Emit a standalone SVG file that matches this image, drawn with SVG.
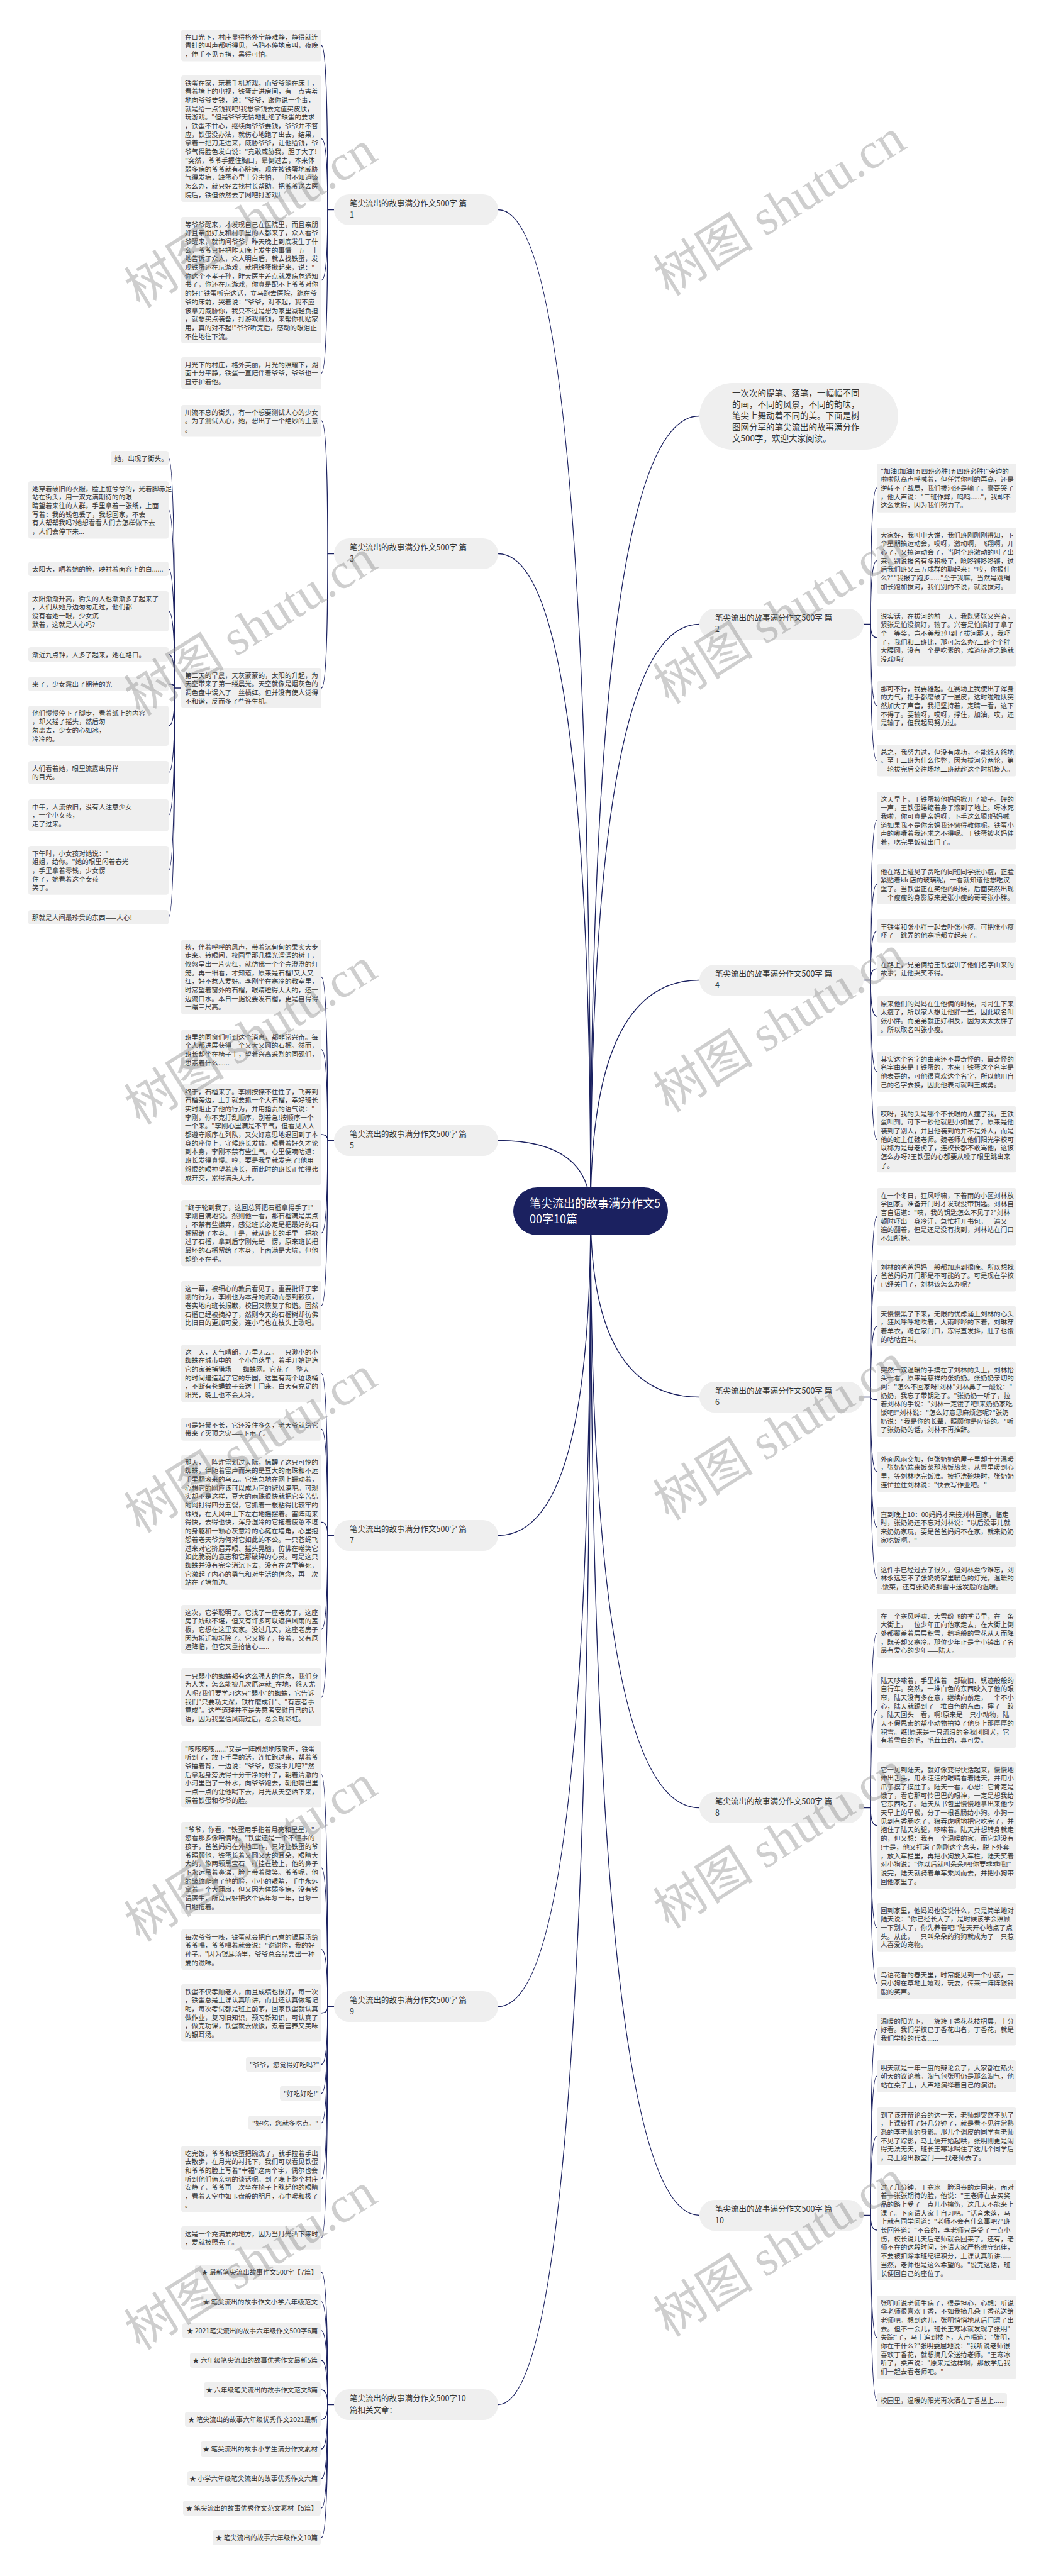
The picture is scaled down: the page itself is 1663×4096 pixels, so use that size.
<svg xmlns="http://www.w3.org/2000/svg" width="1663" height="4096" viewBox="0 0 1663 4096">
<style>
.bx{fill:#efefef}
.nd{fill:#efefef}
.tx{font-family:"Noto Sans CJK SC","Noto Sans",sans-serif;font-size:10.6px;fill:#333}
.nt{font-family:"Noto Sans CJK SC","Noto Sans",sans-serif;font-size:12.5px;fill:#333}
.it{font-family:"Noto Sans CJK SC","Noto Sans",sans-serif;font-size:10.6px;fill:#333;text-anchor:end}
.ln{fill:none;stroke:#1b2160;stroke-width:1.4}
.wm{font-family:"Liberation Serif","Noto Sans CJK SC",serif;font-size:80px;fill:#7f7f7f;fill-opacity:0.38;text-anchor:middle}
</style>
<rect width="1663" height="4096" fill="#ffffff"/>
<g id="connectors">
<path class="ln" d="M939 1926 Q939 661.5 1112 661.5"/>
<path class="ln" d="M939 1926 Q939 992.5 1112 992.5"/>
<path class="ln" d="M939 1926 Q939 1558.5 1112 1558.5"/>
<path class="ln" d="M939 1926 Q939 2221.5 1112 2221.5"/>
<path class="ln" d="M939 1926 Q939 2874.5 1112 2874.5"/>
<path class="ln" d="M939 1926 Q939 3522.5 1112 3522.5"/>
<path class="ln" d="M939 1926 Q939 333.5 792 333.5"/>
<path class="ln" d="M939 1926 Q939 880.5 792 880.5"/>
<path class="ln" d="M939 1926 Q939 1813.5 792 1813.5"/>
<path class="ln" d="M939 1926 Q939 2441.5 792 2441.5"/>
<path class="ln" d="M939 1926 Q939 3190.5 792 3190.5"/>
<path class="ln" d="M939 1926 Q939 3823.5 792 3823.5"/>
<path class="ln" d="M531 333.5 L521 333.5 Q521 72.2 511 72.2"/>
<path class="ln" d="M521 333.5 Q521 220.6 511 220.6"/>
<path class="ln" d="M521 333.5 Q521 445.6 511 445.6"/>
<path class="ln" d="M521 333.5 Q521 593.2 511 593.2"/>
<path class="ln" d="M531 880.5 L521 880.5 Q521 669.2 511 669.2"/>
<path class="ln" d="M521 880.5 Q521 1094 511 1094"/>
<path class="ln" d="M288 1094 L278 1094 Q278 728.5 268 728.5"/>
<path class="ln" d="M278 1094 Q278 810.8 268 810.8"/>
<path class="ln" d="M278 1094 Q278 904.5 268 904.5"/>
<path class="ln" d="M278 1094 Q278 972 268 972"/>
<path class="ln" d="M278 1094 Q278 1040.5 268 1040.5"/>
<path class="ln" d="M278 1094 Q278 1087.5 268 1087.5"/>
<path class="ln" d="M278 1094 Q278 1154 268 1154"/>
<path class="ln" d="M278 1094 Q278 1228.4 268 1228.4"/>
<path class="ln" d="M278 1094 Q278 1296.2 268 1296.2"/>
<path class="ln" d="M278 1094 Q278 1383.9 268 1383.9"/>
<path class="ln" d="M278 1094 Q278 1458.5 268 1458.5"/>
<path class="ln" d="M531 1813.5 L521 1813.5 Q521 1553.5 511 1553.5"/>
<path class="ln" d="M521 1813.5 Q521 1669 511 1669"/>
<path class="ln" d="M521 1813.5 Q521 1804 511 1804"/>
<path class="ln" d="M521 1813.5 Q521 1960.6 511 1960.6"/>
<path class="ln" d="M521 1813.5 Q521 2075.9 511 2075.9"/>
<path class="ln" d="M531 2441.5 L521 2441.5 Q521 2183.8 511 2183.8"/>
<path class="ln" d="M521 2441.5 Q521 2272.4 511 2272.4"/>
<path class="ln" d="M521 2441.5 Q521 2420.4 511 2420.4"/>
<path class="ln" d="M521 2441.5 Q521 2590.9 511 2590.9"/>
<path class="ln" d="M521 2441.5 Q521 2698.8 511 2698.8"/>
<path class="ln" d="M531 3190.5 L521 3190.5 Q521 2821.6 511 2821.6"/>
<path class="ln" d="M521 3190.5 Q521 2970.2 511 2970.2"/>
<path class="ln" d="M521 3190.5 Q521 3100 511 3100"/>
<path class="ln" d="M521 3190.5 Q521 3200.8 511 3200.8"/>
<path class="ln" d="M521 3190.5 Q521 3282.5 511 3282.5"/>
<path class="ln" d="M521 3190.5 Q521 3328.5 511 3328.5"/>
<path class="ln" d="M521 3190.5 Q521 3375.5 511 3375.5"/>
<path class="ln" d="M521 3190.5 Q521 3464.6 511 3464.6"/>
<path class="ln" d="M521 3190.5 Q521 3558.4 511 3558.4"/>
<path class="ln" d="M531 3823.5 L521 3823.5 Q521 3613 511 3613"/>
<path class="ln" d="M521 3823.5 Q521 3660 511 3660"/>
<path class="ln" d="M521 3823.5 Q521 3706 511 3706"/>
<path class="ln" d="M521 3823.5 Q521 3753 511 3753"/>
<path class="ln" d="M521 3823.5 Q521 3800 511 3800"/>
<path class="ln" d="M521 3823.5 Q521 3847 511 3847"/>
<path class="ln" d="M521 3823.5 Q521 3894 511 3894"/>
<path class="ln" d="M521 3823.5 Q521 3941 511 3941"/>
<path class="ln" d="M521 3823.5 Q521 3988 511 3988"/>
<path class="ln" d="M521 3823.5 Q521 4035 511 4035"/>
<path class="ln" d="M1373 992.5 L1384 992.5 Q1384 775.9 1394 775.9"/>
<path class="ln" d="M1384 992.5 Q1384 891.6 1394 891.6"/>
<path class="ln" d="M1384 992.5 Q1384 1013.8 1394 1013.8"/>
<path class="ln" d="M1384 992.5 Q1384 1121.9 1394 1121.9"/>
<path class="ln" d="M1384 992.5 Q1384 1209.2 1394 1209.2"/>
<path class="ln" d="M1373 1558.5 L1384 1558.5 Q1384 1304.8 1394 1304.8"/>
<path class="ln" d="M1384 1558.5 Q1384 1406 1394 1406"/>
<path class="ln" d="M1384 1558.5 Q1384 1480.4 1394 1480.4"/>
<path class="ln" d="M1384 1558.5 Q1384 1540.4 1394 1540.4"/>
<path class="ln" d="M1384 1558.5 Q1384 1616 1394 1616"/>
<path class="ln" d="M1384 1558.5 Q1384 1704 1394 1704"/>
<path class="ln" d="M1384 1558.5 Q1384 1811.6 1394 1811.6"/>
<path class="ln" d="M1373 2221.5 L1384 2221.5 Q1384 1934.8 1394 1934.8"/>
<path class="ln" d="M1384 2221.5 Q1384 2028.2 1394 2028.2"/>
<path class="ln" d="M1384 2221.5 Q1384 2109 1394 2109"/>
<path class="ln" d="M1384 2221.5 Q1384 2225.5 1394 2225.5"/>
<path class="ln" d="M1384 2221.5 Q1384 2340 1394 2340"/>
<path class="ln" d="M1384 2221.5 Q1384 2428 1394 2428"/>
<path class="ln" d="M1384 2221.5 Q1384 2509.2 1394 2509.2"/>
<path class="ln" d="M1373 2874.5 L1384 2874.5 Q1384 2596.9 1394 2596.9"/>
<path class="ln" d="M1384 2874.5 Q1384 2719.5 1394 2719.5"/>
<path class="ln" d="M1384 2874.5 Q1384 2902.6 1394 2902.6"/>
<path class="ln" d="M1384 2874.5 Q1384 3064.9 1394 3064.9"/>
<path class="ln" d="M1384 2874.5 Q1384 3153.2 1394 3153.2"/>
<path class="ln" d="M1373 3522.5 L1384 3522.5 Q1384 3227.2 1394 3227.2"/>
<path class="ln" d="M1384 3522.5 Q1384 3301.2 1394 3301.2"/>
<path class="ln" d="M1384 3522.5 Q1384 3396.8 1394 3396.8"/>
<path class="ln" d="M1384 3522.5 Q1384 3546 1394 3546"/>
<path class="ln" d="M1384 3522.5 Q1384 3716.6 1394 3716.6"/>
<path class="ln" d="M1384 3522.5 Q1384 3816.5 1394 3816.5"/>
</g>

<g id="root">
<rect x="816" y="1888" width="246" height="76" rx="38" fill="#1b2160"/>
<text font-family="Noto Sans CJK SC, Noto Sans, sans-serif" font-size="18" fill="#ffffff"><tspan x="842" y="1920">笔尖流出的故事满分作文5</tspan><tspan x="842" y="1945">00字10篇</tspan></text>
</g>

<g id="intro">
<rect class="nd" x="1112" y="609" width="316" height="106" rx="53"/>
<text class="nt" style="font-size:13.5px"><tspan x="1164" y="630">一次次的提笔、落笔，一幅幅不同</tspan><tspan x="1164" y="648">的画，不同的风景，不同的韵味，</tspan><tspan x="1164" y="666">笔尖上舞动着不同的美。下面是树</tspan><tspan x="1164" y="684">图网分享的笔尖流出的故事满分作</tspan><tspan x="1164" y="702">文500字，欢迎大家阅读。</tspan></text>
</g>

<g id="p1">
<rect class="nd" x="531" y="309" width="261" height="49" rx="24.5"/>
<text class="nt"><tspan x="556" y="328">笔尖流出的故事满分作文500字 篇</tspan><tspan x="556" y="346">1</tspan></text>
</g>
<g id="p1c1"><rect class="bx" x="288" y="47" width="223" height="50.4" rx="4"/>
<text class="tx"><tspan x="294" y="62.5">在目光下，村庄显得格外宁静难静，静得就连</tspan><tspan x="294" y="76.2">青蛙的叫声都听得见，乌鸦不停地哀叫，夜晚</tspan><tspan x="294" y="89.9">，伸手不见五指，黑得可怕。</tspan></text></g>
<g id="p1c2"><rect class="bx" x="288" y="120" width="223" height="201.1" rx="4"/>
<text class="tx"><tspan x="294" y="135.5">铁蛋在家，玩着手机游戏，而爷爷躺在床上，</tspan><tspan x="294" y="149.2">看着墙上的电视，铁蛋走进房间，有一点害羞</tspan><tspan x="294" y="162.9">地向爷爷要钱，说："爷爷，跟你说一个事，</tspan><tspan x="294" y="176.6">就是给一点钱我吧!我想拿钱去充值买皮肤，</tspan><tspan x="294" y="190.3">玩游戏。"但是爷爷无情地拒绝了缺蛋的要求</tspan><tspan x="294" y="204">，铁蛋不甘心，继续向爷爷要钱，爷爷并不答</tspan><tspan x="294" y="217.7">应，铁蛋没办法，就伤心地跑了出去，结果，</tspan><tspan x="294" y="231.4">拿着一把刀走进来，威胁爷爷，让他给钱，爷</tspan><tspan x="294" y="245.1">爷气得脸色发白说："竟敢威胁我，胆子大了!</tspan><tspan x="294" y="258.8">"突然，爷爷手握住胸口，晕倒过去，本来体</tspan><tspan x="294" y="272.5">弱多病的爷爷就有心脏病，现在被铁蛋地威胁</tspan><tspan x="294" y="286.2">气得发病，缺蛋心里十分害怕，一时不知道该</tspan><tspan x="294" y="299.9">怎么办，就只好去找村长帮助。把爷爷送去医</tspan><tspan x="294" y="313.6">院后，铁但依然去了网吧打游戏!</tspan></text></g>
<g id="p1c3"><rect class="bx" x="288" y="345" width="223" height="201.1" rx="4"/>
<text class="tx"><tspan x="294" y="360.5">等爷爷醒来，才发现自己在医院里，而且亲朋</tspan><tspan x="294" y="374.2">好且亲朋好友和村子里的人都来了，众人看爷</tspan><tspan x="294" y="387.9">爷醒来，就询问爷爷，昨天晚上到底发生了什</tspan><tspan x="294" y="401.6">么，爷爷只好把昨天晚上发生的事情一五一十</tspan><tspan x="294" y="415.3">地告诉了众人，众人明白后，就去找铁蛋，发</tspan><tspan x="294" y="429">现铁蛋还在玩游戏，就把铁蛋揪起来，说："</tspan><tspan x="294" y="442.7">你这个不孝子孙，昨天医生差点就发病危通知</tspan><tspan x="294" y="456.4">书了，你还在玩游戏，你真是配不上爷爷对你</tspan><tspan x="294" y="470.1">的好!"铁蛋听完这话，立马跑去医院，跪在爷</tspan><tspan x="294" y="483.8">爷的床前，哭着说："爷爷，对不起，我不应</tspan><tspan x="294" y="497.5">该拿刀威胁你，我只不过是想为家里减轻负担</tspan><tspan x="294" y="511.2">，就想买点装备，打游戏赚钱，来帮你礼贴家</tspan><tspan x="294" y="524.9">用，真的对不起!"爷爷听完后，感动的眼泪止</tspan><tspan x="294" y="538.6">不住地往下流。</tspan></text></g>
<g id="p1c4"><rect class="bx" x="288" y="568" width="223" height="50.4" rx="4"/>
<text class="tx"><tspan x="294" y="583.5">月光下的村庄，格外美丽，月光的照耀下，湖</tspan><tspan x="294" y="597.2">面十分平静，铁蛋一直陪伴着爷爷，爷爷也一</tspan><tspan x="294" y="610.9">直守护着他。</tspan></text></g>

<g id="p3">
<rect class="nd" x="531" y="856" width="261" height="49" rx="24.5"/>
<text class="nt"><tspan x="556" y="875">笔尖流出的故事满分作文500字 篇</tspan><tspan x="556" y="893">3</tspan></text>
</g>
<g id="p3c1"><rect class="bx" x="288" y="644" width="223" height="50.4" rx="4"/>
<text class="tx"><tspan x="294" y="659.5">川流不息的街头，有一个想要测试人心的少女</tspan><tspan x="294" y="673.2">。为了测试人心，她，想出了一个绝妙的主意</tspan><tspan x="294" y="686.9">。</tspan></text></g>
<g id="p3c2"><rect class="bx" x="288" y="1062" width="223" height="64.1" rx="4"/>
<text class="tx"><tspan x="294" y="1077.5">第二天的早晨，天灰蒙蒙的，太阳的升起，为</tspan><tspan x="294" y="1091.2">天空带来了第一缕晨光。天空就像是烟灰色的</tspan><tspan x="294" y="1104.9">调色盘中误入了一丝橘红。但并没有使人觉得</tspan><tspan x="294" y="1118.6">不和谐，反而多了些许生机。</tspan></text></g>
<g id="p3s1"><rect class="bx" x="176" y="717" width="92" height="23" rx="4"/>
<text class="tx"><tspan x="182" y="732.5">她，出现了街头。</tspan></text></g>
<g id="p3s2"><rect class="bx" x="45" y="765" width="223" height="91.5" rx="4"/>
<text class="tx"><tspan x="51" y="780.5">她穿着破旧的衣服，脸上脏兮兮的，光着脚赤足</tspan><tspan x="51" y="794.2">站在街头，用一双充满期待的的眼</tspan><tspan x="51" y="807.9">睛望着来往的人群，手里拿着一张纸，上面</tspan><tspan x="51" y="821.6">写着：我的钱包丢了，我想回家，不会</tspan><tspan x="51" y="835.3">有人帮帮我吗?她想看看人们会怎样做下去</tspan><tspan x="51" y="849">，人们会停下来...</tspan></text></g>
<g id="p3s3"><rect class="bx" x="45" y="893" width="223" height="23" rx="4"/>
<text class="tx"><tspan x="51" y="908.5">太阳大，晒着她的脸，映衬着面容上的白......</tspan></text></g>
<g id="p3s4"><rect class="bx" x="45" y="940" width="223" height="64.1" rx="4"/>
<text class="tx"><tspan x="51" y="955.5">太阳渐渐升高，街头的人也渐渐多了起来了</tspan><tspan x="51" y="969.2">，人们从她身边匆匆走过，他们都</tspan><tspan x="51" y="982.9">没有看她一眼，少女沉</tspan><tspan x="51" y="996.6">默着，这就是人心吗?</tspan></text></g>
<g id="p3s5"><rect class="bx" x="45" y="1029" width="223" height="23" rx="4"/>
<text class="tx"><tspan x="51" y="1044.5">渐近九点钟，人多了起来，她在路口。</tspan></text></g>
<g id="p3s6"><rect class="bx" x="45" y="1076" width="223" height="23" rx="4"/>
<text class="tx"><tspan x="51" y="1091.5">来了，少女露出了期待的光</tspan></text></g>
<g id="p3s7"><rect class="bx" x="45" y="1122" width="223" height="64.1" rx="4"/>
<text class="tx"><tspan x="51" y="1137.5">他们慢慢停下了脚步，看着纸上的内容</tspan><tspan x="51" y="1151.2">，却又摇了摇头，然后匆</tspan><tspan x="51" y="1164.9">匆离去，少女的心如冰，</tspan><tspan x="51" y="1178.6">冷冷的。</tspan></text></g>
<g id="p3s8"><rect class="bx" x="45" y="1210" width="223" height="36.7" rx="4"/>
<text class="tx"><tspan x="51" y="1225.5">人们看着她，眼里流露出异样</tspan><tspan x="51" y="1239.2">的目光。</tspan></text></g>
<g id="p3s9"><rect class="bx" x="45" y="1271" width="223" height="50.4" rx="4"/>
<text class="tx"><tspan x="51" y="1286.5">中午，人流依旧，没有人注意少女</tspan><tspan x="51" y="1300.2">，一个小女孩，</tspan><tspan x="51" y="1313.9">走了过来。</tspan></text></g>
<g id="p3s10"><rect class="bx" x="45" y="1345" width="223" height="77.8" rx="4"/>
<text class="tx"><tspan x="51" y="1360.5">下午时，小女孩对她说："</tspan><tspan x="51" y="1374.2">姐姐，给你。"她的眼里闪着春光</tspan><tspan x="51" y="1387.9">，手里拿着零钱，少女愣</tspan><tspan x="51" y="1401.6">住了，她看着这个女孩</tspan><tspan x="51" y="1415.3">笑了。</tspan></text></g>
<g id="p3s11"><rect class="bx" x="45" y="1447" width="223" height="23" rx="4"/>
<text class="tx"><tspan x="51" y="1462.5">那就是人间最珍贵的东西——人心!</tspan></text></g>

<g id="p5">
<rect class="nd" x="531" y="1789" width="261" height="49" rx="24.5"/>
<text class="nt"><tspan x="556" y="1808">笔尖流出的故事满分作文500字 篇</tspan><tspan x="556" y="1826">5</tspan></text>
</g>
<g id="p5c1"><rect class="bx" x="288" y="1494" width="223" height="118.9" rx="4"/>
<text class="tx"><tspan x="294" y="1509.5">秋，伴着呼呼的风声，带着沉甸甸的果实大步</tspan><tspan x="294" y="1523.2">走来。转眼间，校园里那几棵光溜溜的树干，</tspan><tspan x="294" y="1536.9">倏忽呈出一片火红，就仿佛一个个亮澄澄的灯</tspan><tspan x="294" y="1550.6">笼。再一细看，才知道，原来是石榴!又大又</tspan><tspan x="294" y="1564.3">红，好不惹人爱好。李刚坐在寒冷的教室里，</tspan><tspan x="294" y="1578">时常望着窗外的石榴，眼睛瞪得大大的，还一</tspan><tspan x="294" y="1591.7">边流口水。本日一据说要发石榴，更是自得得</tspan><tspan x="294" y="1605.4">一蹦三尺高。</tspan></text></g>
<g id="p5c2"><rect class="bx" x="288" y="1637" width="223" height="64.1" rx="4"/>
<text class="tx"><tspan x="294" y="1652.5">班里的同窗们听到这个消息，都非常兴奋。每</tspan><tspan x="294" y="1666.2">个人都进展获得一个又大又圆的石榴。然而，</tspan><tspan x="294" y="1679.9">班长却坐在椅子上，望着兴高采烈的同砚们，</tspan><tspan x="294" y="1693.6">思索着什么......</tspan></text></g>
<g id="p5c3"><rect class="bx" x="288" y="1724" width="223" height="160" rx="4"/>
<text class="tx"><tspan x="294" y="1739.5">终于，石榴来了。李刚按捺不住性子，飞奔到</tspan><tspan x="294" y="1753.2">石榴旁边，上手就要抓一个大石榴，幸好班长</tspan><tspan x="294" y="1766.9">实时阻止了他的行为，并用指责的语气说："</tspan><tspan x="294" y="1780.6">李刚，你不克打乱顺序，别着急!按顺序一个</tspan><tspan x="294" y="1794.3">一个来。"李刚心里满是不平气，但看见人人</tspan><tspan x="294" y="1808">都遵守顺序在列队，又欠好意思地退回到了本</tspan><tspan x="294" y="1821.7">身的座位上，守候班长发放。眼看着好久才轮</tspan><tspan x="294" y="1835.4">到本身，李刚不禁有些生气，心里便嘀咕道：</tspan><tspan x="294" y="1849.1">班长发得真慢。哼，要是我早就发完了!他用</tspan><tspan x="294" y="1862.8">怨恨的眼神望着班长，而此时的班长正忙得弗</tspan><tspan x="294" y="1876.5">成开交，累得满头大汗。</tspan></text></g>
<g id="p5c4"><rect class="bx" x="288" y="1908" width="223" height="105.2" rx="4"/>
<text class="tx"><tspan x="294" y="1923.5">"终于轮到我了，这回总算把石榴拿得手了!"</tspan><tspan x="294" y="1937.2">李刚自满地说。然则他一看，那石榴满是黑点</tspan><tspan x="294" y="1950.9">，不禁有些嫌弃，感觉班长必定是把最好的石</tspan><tspan x="294" y="1964.6">榴留给了本身。于是，就从班长的手里一把抢</tspan><tspan x="294" y="1978.3">过了石榴，拿到后李刚先是一愣，原来班长把</tspan><tspan x="294" y="1992">最坏的石榴留给了本身，上面满是大坑，但他</tspan><tspan x="294" y="2005.7">却绝不在乎。</tspan></text></g>
<g id="p5c5"><rect class="bx" x="288" y="2037" width="223" height="77.8" rx="4"/>
<text class="tx"><tspan x="294" y="2052.5">这一幕，被细心的教员看见了。重要批评了李</tspan><tspan x="294" y="2066.2">刚的行为，李刚也为本身的流动而感到歉疚，</tspan><tspan x="294" y="2079.9">老实地向班长报歉，校园又恢复了和谐。固然</tspan><tspan x="294" y="2093.6">石榴已经被摘掉了，然则今天的石榴树却彷佛</tspan><tspan x="294" y="2107.3">比旧日的更加可爱，连小鸟也在枝头上歌唱。</tspan></text></g>

<g id="p7">
<rect class="nd" x="531" y="2417" width="261" height="49" rx="24.5"/>
<text class="nt"><tspan x="556" y="2436">笔尖流出的故事满分作文500字 篇</tspan><tspan x="556" y="2454">7</tspan></text>
</g>
<g id="p7c1"><rect class="bx" x="288" y="2138" width="223" height="91.5" rx="4"/>
<text class="tx"><tspan x="294" y="2153.5">这一天，天气晴朗，万里无云。一只渺小的小</tspan><tspan x="294" y="2167.2">蜘蛛在城市中的一个小角落里，着手开始建造</tspan><tspan x="294" y="2180.9">它的家兼捕猎场——蜘蛛网。它花了一整天</tspan><tspan x="294" y="2194.6">的时间建造起了它的乐园，这里有两个垃圾桶</tspan><tspan x="294" y="2208.3">，不断有苍蝇蚊子会送上门来。白天有充足的</tspan><tspan x="294" y="2222">阳光，晚上也不会太冷。</tspan></text></g>
<g id="p7c2"><rect class="bx" x="288" y="2254" width="223" height="36.7" rx="4"/>
<text class="tx"><tspan x="294" y="2269.5">可是好景不长，它还没住多久，老天爷就给它</tspan><tspan x="294" y="2283.2">带来了灭顶之灾——下雨了。</tspan></text></g>
<g id="p7c3"><rect class="bx" x="288" y="2313" width="223" height="214.8" rx="4"/>
<text class="tx"><tspan x="294" y="2328.5">那天，一阵炸雷划过天际，惊醒了这只可怜的</tspan><tspan x="294" y="2342.2">蜘蛛，伴随着雷声而来的是豆大的雨珠和不远</tspan><tspan x="294" y="2355.9">千里翻滚来的乌云。它焦急地在网上蠕动着，</tspan><tspan x="294" y="2369.6">心想它的网应该可以成为它的避风港吧。可现</tspan><tspan x="294" y="2383.3">实却不是这样，豆大的雨珠很快就把它辛苦结</tspan><tspan x="294" y="2397">的网打得四分五裂，它抓着一根粘得比较牢的</tspan><tspan x="294" y="2410.7">蛛线，在大风中上下左右地摇摆着。雷阵雨来</tspan><tspan x="294" y="2424.4">得快，去得也快，浑身湿冷的它拖着疲惫不堪</tspan><tspan x="294" y="2438.1">的身躯和一颗心灰意冷的心瘫在墙角，心里抱</tspan><tspan x="294" y="2451.8">怨着老天爷为何对它如此的不公。一只苍蝇飞</tspan><tspan x="294" y="2465.5">过来对它挤眉弄眼、摇头晃脑，仿佛在嘲笑它</tspan><tspan x="294" y="2479.2">如此脆弱的意志和它那破碎的心灵。可是这只</tspan><tspan x="294" y="2492.9">蜘蛛并没有完全消沉下去，没有在这里等死，</tspan><tspan x="294" y="2506.6">它激起了内心的勇气和对生活的信念，再一次</tspan><tspan x="294" y="2520.3">站在了墙角边。</tspan></text></g>
<g id="p7c4"><rect class="bx" x="288" y="2552" width="223" height="77.8" rx="4"/>
<text class="tx"><tspan x="294" y="2567.5">这次，它学聪明了。它找了一座老房子，这座</tspan><tspan x="294" y="2581.2">房子残缺不堪，但又有许多可以遮挡风雨的盖</tspan><tspan x="294" y="2594.9">板，它想在这里安家。没过几天，这座老房子</tspan><tspan x="294" y="2608.6">因为拆迁被拆除了。它又搬了，接着，又有厄</tspan><tspan x="294" y="2622.3">运降临，但它又重拾信心......</tspan></text></g>
<g id="p7c5"><rect class="bx" x="288" y="2653" width="223" height="91.5" rx="4"/>
<text class="tx"><tspan x="294" y="2668.5">一只弱小的蜘蛛都有这么强大的信念，我们身</tspan><tspan x="294" y="2682.2">为人类，怎么能被几次厄运就_在地，怨天尤</tspan><tspan x="294" y="2695.9">人呢?我们要学习这只"弱小"的蜘蛛，它告诉</tspan><tspan x="294" y="2709.6">我们"只要功夫深，铁杵磨成针"、"有志者事</tspan><tspan x="294" y="2723.3">竟成"。这些道理并不是失意者安慰自己的话</tspan><tspan x="294" y="2737">语，因为我坚信风雨过后，总会现彩虹。</tspan></text></g>

<g id="p9">
<rect class="nd" x="531" y="3166" width="261" height="49" rx="24.5"/>
<text class="nt"><tspan x="556" y="3185">笔尖流出的故事满分作文500字 篇</tspan><tspan x="556" y="3203">9</tspan></text>
</g>
<g id="p9c1"><rect class="bx" x="288" y="2769" width="223" height="105.2" rx="4"/>
<text class="tx"><tspan x="294" y="2784.5">"咳咳咳咳......"又是一阵剧烈地咳嗽声，铁蛋</tspan><tspan x="294" y="2798.2">听到了，放下手里的活，连忙跑过来，帮着爷</tspan><tspan x="294" y="2811.9">爷捶着背，一边说："爷爷，您没事儿吧?"然</tspan><tspan x="294" y="2825.6">后拿起身旁洗得十分干净的杯子，朝着清澈的</tspan><tspan x="294" y="2839.3">小河里舀了一杯水，向爷爷跑去，朝他嘴巴里</tspan><tspan x="294" y="2853">一点一点的让他喝下去，月光从天空洒下来，</tspan><tspan x="294" y="2866.7">照着铁蛋和爷爷的脸。</tspan></text></g>
<g id="p9c2"><rect class="bx" x="288" y="2897" width="223" height="146.3" rx="4"/>
<text class="tx"><tspan x="294" y="2912.5">"爷爷，你看，"铁蛋用手指着月亮和星星，"</tspan><tspan x="294" y="2926.2">您看那多像咱俩呀。"铁蛋还是一个不懂事的</tspan><tspan x="294" y="2939.9">孩子，爸爸妈妈在外地工作，只好让铁蛋的爷</tspan><tspan x="294" y="2953.6">爷照顾他，铁蛋长着又圆又大的耳朵，眼睛大</tspan><tspan x="294" y="2967.3">大的，像两颗黑宝石一样挂在脸上，他的鼻子</tspan><tspan x="294" y="2981">下永远吊着鼻涕，脸上带着微笑。爷爷呢，他</tspan><tspan x="294" y="2994.7">的皱纹爬遍了他的脸，小小的眼睛，手中永远</tspan><tspan x="294" y="3008.4">拿着一个大蒲扇，但又因为体弱多病，没有钱</tspan><tspan x="294" y="3022.1">请医生，所以只好把这个病年复一年，日复一</tspan><tspan x="294" y="3035.8">日地拖着。</tspan></text></g>
<g id="p9c3"><rect class="bx" x="288" y="3068" width="223" height="64.1" rx="4"/>
<text class="tx"><tspan x="294" y="3083.5">每次爷爷一咳，铁蛋就会把自己煮的银耳汤给</tspan><tspan x="294" y="3097.2">爷爷喝，爷爷喝着就会说："谢谢你，我的好</tspan><tspan x="294" y="3110.9">孙子。"因为银耳汤里，爷爷总会品尝出一种</tspan><tspan x="294" y="3124.6">爱的滋味。</tspan></text></g>
<g id="p9c4"><rect class="bx" x="288" y="3155" width="223" height="91.5" rx="4"/>
<text class="tx"><tspan x="294" y="3170.5">铁蛋不仅孝顺老人，而且成绩也很好，每一次</tspan><tspan x="294" y="3184.2">，铁蛋总是上课认真听讲，而且还认真做笔记</tspan><tspan x="294" y="3197.9">呢，每次考试都是班上前茅，回家铁蛋就认真</tspan><tspan x="294" y="3211.6">做作业，复习旧知识，预习新知识，可认真了</tspan><tspan x="294" y="3225.3">，做完功课，铁蛋就去做饭，煮着营养又美味</tspan><tspan x="294" y="3239">的银耳汤。</tspan></text></g>
<g id="p9c5"><rect class="bx" x="391" y="3271" width="120" height="23" rx="4"/>
<text class="tx"><tspan x="397" y="3286.5">"爷爷，您觉得好吃吗?"</tspan></text></g>
<g id="p9c6"><rect class="bx" x="445" y="3317" width="66" height="23" rx="4"/>
<text class="tx"><tspan x="451" y="3332.5">"好吃好吃!"</tspan></text></g>
<g id="p9c7"><rect class="bx" x="395" y="3364" width="116" height="23" rx="4"/>
<text class="tx"><tspan x="401" y="3379.5">"好吃，您就多吃点。"</tspan></text></g>
<g id="p9c8"><rect class="bx" x="288" y="3412" width="223" height="105.2" rx="4"/>
<text class="tx"><tspan x="294" y="3427.5">吃完饭，爷爷和铁蛋把碗洗了，就手拉着手出</tspan><tspan x="294" y="3441.2">去散步，在月光的衬托下，我们可以看见铁蛋</tspan><tspan x="294" y="3454.9">和爷爷的脸上写着"幸福"这两个字，偶尔也会</tspan><tspan x="294" y="3468.6">听到他们俩亲切的谈话呢。到了晚上整个村庄</tspan><tspan x="294" y="3482.3">安静了，爷爷再一次坐在椅子上眯起他的眼睛</tspan><tspan x="294" y="3496">，看着天空中如玉盘般的明月，心中暖和极了</tspan><tspan x="294" y="3509.7">。</tspan></text></g>
<g id="p9c9"><rect class="bx" x="288" y="3540" width="223" height="36.7" rx="4"/>
<text class="tx"><tspan x="294" y="3555.5">这是一个充满爱的地方，因为当月光洒下来时</tspan><tspan x="294" y="3569.2">，爱就被照亮了。</tspan></text></g>

<g id="related">
<rect class="nd" x="531" y="3799" width="261" height="49" rx="24.5"/>
<text class="nt"><tspan x="556" y="3818">笔尖流出的故事满分作文500字10</tspan><tspan x="556" y="3837">篇相关文章：</tspan></text>
</g>
<g id="r1"><rect class="bx" x="310" y="3601" width="200" height="24" rx="4"/><text class="it" x="505" y="3617">★ 最新笔尖流出故事作文500字【7篇】</text></g>
<g id="r2"><rect class="bx" x="319" y="3648" width="191" height="24" rx="4"/><text class="it" x="505" y="3664">★ 笔尖流出的故事作文小学六年级范文</text></g>
<g id="r3"><rect class="bx" x="290" y="3694" width="220" height="24" rx="4"/><text class="it" x="505" y="3710">★ 2021笔尖流出的故事六年级作文500字6篇</text></g>
<g id="r4"><rect class="bx" x="302" y="3741" width="208" height="24" rx="4"/><text class="it" x="505" y="3757">★ 六年级笔尖流出的故事优秀作文最新5篇</text></g>
<g id="r5"><rect class="bx" x="324" y="3788" width="186" height="24" rx="4"/><text class="it" x="505" y="3804">★ 六年级笔尖流出的故事作文范文8篇</text></g>
<g id="r6"><rect class="bx" x="294" y="3835" width="216" height="24" rx="4"/><text class="it" x="505" y="3851">★ 笔尖流出的故事六年级优秀作文2021最新</text></g>
<g id="r7"><rect class="bx" x="319" y="3882" width="191" height="24" rx="4"/><text class="it" x="505" y="3898">★ 笔尖流出的故事小学生满分作文素材</text></g>
<g id="r8"><rect class="bx" x="298" y="3929" width="212" height="24" rx="4"/><text class="it" x="505" y="3945">★ 小学六年级笔尖流出的故事优秀作文六篇</text></g>
<g id="r9"><rect class="bx" x="291" y="3976" width="219" height="24" rx="4"/><text class="it" x="505" y="3992">★ 笔尖流出的故事优秀作文范文素材【5篇】</text></g>
<g id="r10"><rect class="bx" x="338" y="4023" width="172" height="24" rx="4"/><text class="it" x="505" y="4039">★ 笔尖流出的故事六年级作文10篇</text></g>

<g id="p2">
<rect class="nd" x="1112" y="968" width="261" height="49" rx="24.5"/>
<text class="nt"><tspan x="1137" y="987">笔尖流出的故事满分作文500字 篇</tspan><tspan x="1137" y="1005">2</tspan></text>
</g>
<g id="p2c1"><rect class="bx" x="1394" y="737" width="222" height="77.8" rx="4"/>
<text class="tx"><tspan x="1400" y="752.5">"加油!加油!五四班必胜!五四班必胜!"旁边的</tspan><tspan x="1400" y="766.2">啦啦队高声呼喊着，但任凭你叫的再高，还是</tspan><tspan x="1400" y="779.9">逆转不了战局，我们拔河还是输了。豪哥哭了</tspan><tspan x="1400" y="793.6">，他大声说："二班作弊，呜呜......"，我却不</tspan><tspan x="1400" y="807.3">这么觉得，因为我们努力了。</tspan></text></g>
<g id="p2c2"><rect class="bx" x="1394" y="839" width="222" height="105.2" rx="4"/>
<text class="tx"><tspan x="1400" y="854.5">大家好，我叫申大饼，我们班刚刚刚得知，下</tspan><tspan x="1400" y="868.2">个星期搞运动会，哎呀，激动啊，飞翔啊，开</tspan><tspan x="1400" y="881.9">心了，又搞运动会了，当时全班激动的叫了出</tspan><tspan x="1400" y="895.6">来，别说报名有多积极了，呛咚锵咚咚锵，过</tspan><tspan x="1400" y="909.3">后我们班又三五成群的聊起来："哎，你报什</tspan><tspan x="1400" y="923">么?""我报了跑步......"至于我嘛，当然是跳绳</tspan><tspan x="1400" y="936.7">加长跑加拔河，我们别的不说，就说拔河。</tspan></text></g>
<g id="p2c3"><rect class="bx" x="1394" y="968" width="222" height="91.5" rx="4"/>
<text class="tx"><tspan x="1400" y="983.5">说实话，在拔河的前一天，我既紧张又兴奋，</tspan><tspan x="1400" y="997.2">紧张是怕没搞好，输了。兴奋是怕搞好了拿了</tspan><tspan x="1400" y="1010.9">个一等奖，岂不美哉?但到了拔河那天，我吓</tspan><tspan x="1400" y="1024.6">了，我们和二班比，那可怎么办?二班个个胖</tspan><tspan x="1400" y="1038.3">大腰圆，没有一个是吃素的，难道征途之路就</tspan><tspan x="1400" y="1052">没戏吗?</tspan></text></g>
<g id="p2c4"><rect class="bx" x="1394" y="1083" width="222" height="77.8" rx="4"/>
<text class="tx"><tspan x="1400" y="1098.5">那可不行，我要雄起。在赛场上我使出了浑身</tspan><tspan x="1400" y="1112.2">的力气，把手都磨破了一层皮，这时啦啦队突</tspan><tspan x="1400" y="1125.9">然加大了声音，我把坚持着，定睛一看，这下</tspan><tspan x="1400" y="1139.6">不得了。要输呀，哎呀，撑住，加油，哎，还</tspan><tspan x="1400" y="1153.3">是输了，但我起码努力过。</tspan></text></g>
<g id="p2c5"><rect class="bx" x="1394" y="1184" width="222" height="50.4" rx="4"/>
<text class="tx"><tspan x="1400" y="1199.5">总之，我努力过，但没有成功，不能怨天怨地</tspan><tspan x="1400" y="1213.2">。至于二班为什么作弊，因为拔河分两轮，第</tspan><tspan x="1400" y="1226.9">一轮拔完后交往场地二班就趁这个时机换人。</tspan></text></g>

<g id="p4">
<rect class="nd" x="1112" y="1534" width="261" height="49" rx="24.5"/>
<text class="nt"><tspan x="1137" y="1553">笔尖流出的故事满分作文500字 篇</tspan><tspan x="1137" y="1571">4</tspan></text>
</g>
<g id="p4c1"><rect class="bx" x="1394" y="1259" width="222" height="91.5" rx="4"/>
<text class="tx"><tspan x="1400" y="1274.5">这天早上，王铁蛋被他妈妈掀开了被子。砰的</tspan><tspan x="1400" y="1288.2">一声，王铁蛋蜷缩着身子滚到了地上。呀冰死</tspan><tspan x="1400" y="1301.9">我啦，你可真是亲妈呀，下手这么狠!妈妈喊</tspan><tspan x="1400" y="1315.6">道如果我不是你亲妈我还懒得教你呢，铁蛋小</tspan><tspan x="1400" y="1329.3">声的嘟囔着我还求之不得呢。王铁蛋被老妈催</tspan><tspan x="1400" y="1343">着，吃完早饭就出门了。</tspan></text></g>
<g id="p4c2"><rect class="bx" x="1394" y="1374" width="222" height="64.1" rx="4"/>
<text class="tx"><tspan x="1400" y="1389.5">他在路上碰见了贪吃的同班同学张小瘦，正脸</tspan><tspan x="1400" y="1403.2">紧贴着kfc店的玻璃呢，一看就知道他想吃汉</tspan><tspan x="1400" y="1416.9">堡了。当铁蛋正在笑他的时候，后面突然出现</tspan><tspan x="1400" y="1430.6">一个瘦瘦的身影原来是张小瘦的哥哥张小胖。</tspan></text></g>
<g id="p4c3"><rect class="bx" x="1394" y="1462" width="222" height="36.7" rx="4"/>
<text class="tx"><tspan x="1400" y="1477.5">王铁蛋和张小胖一起去吓张小瘦。可把张小瘦</tspan><tspan x="1400" y="1491.2">吓了一跳弄的他寒毛都立起来了。</tspan></text></g>
<g id="p4c4"><rect class="bx" x="1394" y="1522" width="222" height="36.7" rx="4"/>
<text class="tx"><tspan x="1400" y="1537.5">在路上，兄弟俩给王铁蛋讲了他们名字由来的</tspan><tspan x="1400" y="1551.2">故事，让他哭笑不得。</tspan></text></g>
<g id="p4c5"><rect class="bx" x="1394" y="1584" width="222" height="64.1" rx="4"/>
<text class="tx"><tspan x="1400" y="1599.5">原来他们的妈妈在生他俩的时候，哥哥生下来</tspan><tspan x="1400" y="1613.2">太瘦了，所以家人想让他胖一些，因此取名叫</tspan><tspan x="1400" y="1626.9">张小胖。而弟弟就正好相反，因为太太太胖了</tspan><tspan x="1400" y="1640.6">。所以取名叫张小瘦。</tspan></text></g>
<g id="p4c6"><rect class="bx" x="1394" y="1672" width="222" height="64.1" rx="4"/>
<text class="tx"><tspan x="1400" y="1687.5">其实这个名字的由来还不算奇怪的，最奇怪的</tspan><tspan x="1400" y="1701.2">名字由来是王铁蛋的，本来王铁蛋这个名字是</tspan><tspan x="1400" y="1714.9">他表哥的，可他很喜欢这个名字，所以他用自</tspan><tspan x="1400" y="1728.6">己的名字去换，因此他表哥就叫王成勇。</tspan></text></g>
<g id="p4c7"><rect class="bx" x="1394" y="1759" width="222" height="105.2" rx="4"/>
<text class="tx"><tspan x="1400" y="1774.5">哎呀，我的头是哪个不长眼的人撞了我，王铁</tspan><tspan x="1400" y="1788.2">蛋叫到。可下一秒他就胆小如鼠了，原来是他</tspan><tspan x="1400" y="1801.9">装到了别人，并且他装到的并不是外人，而是</tspan><tspan x="1400" y="1815.6">他的班主任魏老师。魏老师在他们阳光学校可</tspan><tspan x="1400" y="1829.3">以称为是母老虎了，连校长都不敢骂他，这该</tspan><tspan x="1400" y="1843">怎么办呀?王铁蛋的心都要从嗓子眼里跳出来</tspan><tspan x="1400" y="1856.7">了。</tspan></text></g>

<g id="p6">
<rect class="nd" x="1112" y="2197" width="261" height="49" rx="24.5"/>
<text class="nt"><tspan x="1137" y="2216">笔尖流出的故事满分作文500字 篇</tspan><tspan x="1137" y="2234">6</tspan></text>
</g>
<g id="p6c1"><rect class="bx" x="1394" y="1889" width="222" height="91.5" rx="4"/>
<text class="tx"><tspan x="1400" y="1904.5">在一个冬日，狂风呼啸，下着雨的小区刘林放</tspan><tspan x="1400" y="1918.2">学回家。准备开门时才发现没带钥匙。刘林自</tspan><tspan x="1400" y="1931.9">言自语道："咦，我的钥匙怎么不见了?"刘林</tspan><tspan x="1400" y="1945.6">顿时吓出一身冷汗，急忙打开书包，一遍又一</tspan><tspan x="1400" y="1959.3">遍的翻着，但是还是没有找到，刘林站在门口</tspan><tspan x="1400" y="1973">不知所措。</tspan></text></g>
<g id="p6c2"><rect class="bx" x="1394" y="2003" width="222" height="50.4" rx="4"/>
<text class="tx"><tspan x="1400" y="2018.5">刘林的爸爸妈妈一般都加班到很晚。所以想找</tspan><tspan x="1400" y="2032.2">爸爸妈妈开门那是不可能的了。可是现在学校</tspan><tspan x="1400" y="2045.9">已经关门了，刘林该怎么办呢?</tspan></text></g>
<g id="p6c3"><rect class="bx" x="1394" y="2077" width="222" height="64.1" rx="4"/>
<text class="tx"><tspan x="1400" y="2092.5">天慢慢黑了下来，无限的忧虑涌上刘林的心头</tspan><tspan x="1400" y="2106.2">，狂风呼呼地吹着，大雨哗哗的下着，刘琳穿</tspan><tspan x="1400" y="2119.9">着单衣，跪在家门口，冻得直发抖，肚子也饿</tspan><tspan x="1400" y="2133.6">的咕咕直叫。</tspan></text></g>
<g id="p6c4"><rect class="bx" x="1394" y="2166" width="222" height="118.9" rx="4"/>
<text class="tx"><tspan x="1400" y="2181.5">突然一双温暖的手摸在了刘林的头上，刘林抬</tspan><tspan x="1400" y="2195.2">头一看，原来是慈祥的张奶奶。张奶奶亲切的</tspan><tspan x="1400" y="2208.9">问："怎么不回家呀!刘林"刘林鼻子一酸说："</tspan><tspan x="1400" y="2222.6">奶奶，我忘了带钥匙了。"张奶奶一听了，拉</tspan><tspan x="1400" y="2236.3">着刘林的手说："刘林一定饿了吧!来奶奶家吃</tspan><tspan x="1400" y="2250">饭吧!"刘林说："怎么好意思麻烦您呢?"张奶</tspan><tspan x="1400" y="2263.7">奶说："我是你的长辈，照顾你是应该的。"听</tspan><tspan x="1400" y="2277.4">了张奶奶的话，刘林不再推辞。</tspan></text></g>
<g id="p6c5"><rect class="bx" x="1394" y="2308" width="222" height="64.1" rx="4"/>
<text class="tx"><tspan x="1400" y="2323.5">外面风雨交加，但张奶奶的屋子里却十分温暖</tspan><tspan x="1400" y="2337.2">，张奶奶端来饭菜那热饭热菜，从胃里暖到心</tspan><tspan x="1400" y="2350.9">里，等刘林吃完饭准。被拒洗碗块时，张奶奶</tspan><tspan x="1400" y="2364.6">连忙拉住刘林说："快去写作业吧。"</tspan></text></g>
<g id="p6c6"><rect class="bx" x="1394" y="2396" width="222" height="64.1" rx="4"/>
<text class="tx"><tspan x="1400" y="2411.5">直到晚上10：00妈妈才来接刘林回家，临走</tspan><tspan x="1400" y="2425.2">时，张奶奶还不忘对刘林说："以后没事儿就</tspan><tspan x="1400" y="2438.9">来奶奶家玩，要是爸爸妈妈不在家，就来奶奶</tspan><tspan x="1400" y="2452.6">家吃饭啊。"</tspan></text></g>
<g id="p6c7"><rect class="bx" x="1394" y="2484" width="222" height="50.4" rx="4"/>
<text class="tx"><tspan x="1400" y="2499.5">这件事已经过去了很久，但刘林至今难忘，刘</tspan><tspan x="1400" y="2513.2">林永远忘不了张奶奶家里暖色的灯光，温暖的</tspan><tspan x="1400" y="2526.9">.饭菜，还有张奶奶那雪中送炭般的温暖。</tspan></text></g>

<g id="p8">
<rect class="nd" x="1112" y="2850" width="261" height="49" rx="24.5"/>
<text class="nt"><tspan x="1137" y="2869">笔尖流出的故事满分作文500字 篇</tspan><tspan x="1137" y="2887">8</tspan></text>
</g>
<g id="p8c1"><rect class="bx" x="1394" y="2558" width="222" height="77.8" rx="4"/>
<text class="tx"><tspan x="1400" y="2573.5">在一个寒风呼啸、大雪纷飞的季节里，在一条</tspan><tspan x="1400" y="2587.2">大街上，一位少年正向他家走去，在大街上倒</tspan><tspan x="1400" y="2600.9">处都覆盖着层层积雪，鹅毛般的雪花从天而降</tspan><tspan x="1400" y="2614.6">，既美却又寒冷。那位少年正是全小镇出了名</tspan><tspan x="1400" y="2628.3">最有爱心的少年——陆天。</tspan></text></g>
<g id="p8c2"><rect class="bx" x="1394" y="2660" width="222" height="118.9" rx="4"/>
<text class="tx"><tspan x="1400" y="2675.5">陆天哆嗦着，手里推着一部破旧、锈迹般般的</tspan><tspan x="1400" y="2689.2">自行车。突然，一堆白色的东西映入了他的眼</tspan><tspan x="1400" y="2702.9">帘，陆天没有多在意，继续向前走，一个不小</tspan><tspan x="1400" y="2716.6">心，陆天就踢到了一堆白色的东西，摔了一跤</tspan><tspan x="1400" y="2730.3">。陆天回头一看，啊!原来是一只小动物，陆</tspan><tspan x="1400" y="2744">天不假思索的帮小动物拍掉了他身上那厚厚的</tspan><tspan x="1400" y="2757.7">积雪。瞧!原来是一只流浪的金秋团圆犬，它</tspan><tspan x="1400" y="2771.4">有着雪白的毛，毛茸茸的，真可爱。</tspan></text></g>
<g id="p8c3"><rect class="bx" x="1394" y="2802" width="222" height="201.1" rx="4"/>
<text class="tx"><tspan x="1400" y="2817.5">它一见到陆天，就好像变得快活起来，慢慢地</tspan><tspan x="1400" y="2831.2">伸出舌头，用水汪汪的眼睛看着陆天，并用小</tspan><tspan x="1400" y="2844.9">爪子摸了摸肚子。陆天一看，心想：它肯定是</tspan><tspan x="1400" y="2858.6">饿了，看它那可怜巴巴的眼神，一定是想我给</tspan><tspan x="1400" y="2872.3">它东西吃了。陆天从书包里慢慢地拿出来他今</tspan><tspan x="1400" y="2886">天早上的早餐，分了一根香肠给小狗。小狗一</tspan><tspan x="1400" y="2899.7">见到有香肠吃了，狼吞虎咽地把它吃完了，并</tspan><tspan x="1400" y="2913.4">抱住了陆天的腿，哆嗦着。陆天并想转身就走</tspan><tspan x="1400" y="2927.1">的，但又想：我有一个温暖的家，而它却没有</tspan><tspan x="1400" y="2940.8">!于是，他又打消了刚刚这个念头，脱下外套</tspan><tspan x="1400" y="2954.5">，放入车栏里，再把小狗放入车栏，陆天笑着</tspan><tspan x="1400" y="2968.2">对小狗说："你以后就叫朵朵吧!你要乖乖哦!"</tspan><tspan x="1400" y="2981.9">说完，陆天就骑着单车乘风而去，并把小狗带</tspan><tspan x="1400" y="2995.6">回他家里了。</tspan></text></g>
<g id="p8c4"><rect class="bx" x="1394" y="3026" width="222" height="77.8" rx="4"/>
<text class="tx"><tspan x="1400" y="3041.5">回到家里，他妈妈也没说什么，只是简单地对</tspan><tspan x="1400" y="3055.2">陆天说："你已经长大了，是时候该学会照顾</tspan><tspan x="1400" y="3068.9">一下别人了，你先养着吧!"陆天开心地点了点</tspan><tspan x="1400" y="3082.6">头。从此，一只叫朵朵的狗狗就成为了一只惹</tspan><tspan x="1400" y="3096.3">人喜爱的宠物。</tspan></text></g>
<g id="p8c5"><rect class="bx" x="1394" y="3128" width="222" height="50.4" rx="4"/>
<text class="tx"><tspan x="1400" y="3143.5">鸟语花香的春天里，时常能见到一个小孩，一</tspan><tspan x="1400" y="3157.2">只小狗在草地上嬉戏，玩耍，传来一阵阵银铃</tspan><tspan x="1400" y="3170.9">般的笑声。</tspan></text></g>

<g id="p10">
<rect class="nd" x="1112" y="3498" width="261" height="49" rx="24.5"/>
<text class="nt"><tspan x="1137" y="3517">笔尖流出的故事满分作文500字 篇</tspan><tspan x="1137" y="3535">10</tspan></text>
</g>
<g id="p10c1"><rect class="bx" x="1394" y="3202" width="222" height="50.4" rx="4"/>
<text class="tx"><tspan x="1400" y="3217.5">温暖的阳光下，一簇簇丁香花花枝招展，十分</tspan><tspan x="1400" y="3231.2">好看。我们学校已丁香花出名，丁香花，就是</tspan><tspan x="1400" y="3244.9">我们学校的代表......</tspan></text></g>
<g id="p10c2"><rect class="bx" x="1394" y="3276" width="222" height="50.4" rx="4"/>
<text class="tx"><tspan x="1400" y="3291.5">明天就是一年一度的辩论会了，大家都在热火</tspan><tspan x="1400" y="3305.2">朝天的议论着。淘气包张明仍是那么淘气，他</tspan><tspan x="1400" y="3318.9">站在桌子上，大声地演绎着自己的演讲。</tspan></text></g>
<g id="p10c3"><rect class="bx" x="1394" y="3351" width="222" height="91.5" rx="4"/>
<text class="tx"><tspan x="1400" y="3366.5">到了该开辩论会的这一天，老师却突然不见了</tspan><tspan x="1400" y="3380.2">，上课铃打了好几分钟了，就是看不见往常熟</tspan><tspan x="1400" y="3393.9">悉的李老师的身影。那几个调皮的同学看老师</tspan><tspan x="1400" y="3407.6">不见了踪影，马上便开始起哄，张明则更是闹</tspan><tspan x="1400" y="3421.3">得无法无天，班长王寒冰喝住了这几个同学后</tspan><tspan x="1400" y="3435">，马上跑出教室门——找老师去了。</tspan></text></g>
<g id="p10c4"><rect class="bx" x="1394" y="3466" width="222" height="160" rx="4"/>
<text class="tx"><tspan x="1400" y="3481.5">过了几分钟，王寒冰一脸沮丧的走回来，面对</tspan><tspan x="1400" y="3495.2">着一张张期待的脸，他说："王老师在去买奖</tspan><tspan x="1400" y="3508.9">品的路上受了一点儿小擦伤，这几天不能来上</tspan><tspan x="1400" y="3522.6">课了。下面请大家上自习吧。"话音未落，马</tspan><tspan x="1400" y="3536.3">上就有同学问道："老师不会有什么事吧?"班</tspan><tspan x="1400" y="3550">长回答道："不会的，李老师只是受了一点小</tspan><tspan x="1400" y="3563.7">伤，校长说几天后老师就会回来了。还有，老</tspan><tspan x="1400" y="3577.4">师不在的这段时间，还请大家严格遵守纪律，</tspan><tspan x="1400" y="3591.1">不要被扣除本班纪律积分，上课认真听讲......</tspan><tspan x="1400" y="3604.8">当然，老师也是这么希望的。"说完这话，班</tspan><tspan x="1400" y="3618.5">长便回自己的座位了。</tspan></text></g>
<g id="p10c5"><rect class="bx" x="1394" y="3650" width="222" height="132.6" rx="4"/>
<text class="tx"><tspan x="1400" y="3665.5">张明听说老师生病了，很是担心，心想：听说</tspan><tspan x="1400" y="3679.2">李老师很喜欢丁香，不如我摘几朵丁香花送给</tspan><tspan x="1400" y="3692.9">老师吧。想到这儿，张明悄悄地从后门溜了出</tspan><tspan x="1400" y="3706.6">去。但不一会儿，班长王寒冰就发现了张明"</tspan><tspan x="1400" y="3720.3">失踪"了，马上追到楼下，大声喝道："张明，</tspan><tspan x="1400" y="3734">你在干什么?"张明委屈地说："我听说老师很</tspan><tspan x="1400" y="3747.7">喜欢丁香花，就想摘几朵送给老师。"王寒冰</tspan><tspan x="1400" y="3761.4">听了，柔声说："原来是这样啊，那放学后我</tspan><tspan x="1400" y="3775.1">们一起去看老师吧。"</tspan></text></g>
<g id="p10c6"><rect class="bx" x="1394" y="3805" width="207" height="23" rx="4"/>
<text class="tx"><tspan x="1400" y="3820.5">校园里，温暖的阳光再次洒在丁香丛上......</tspan></text></g>

<g id="watermark">
<text class="wm" transform="rotate(-32 399 350)" x="399" y="376">树图 shutu.cn</text>
<text class="wm" transform="rotate(-32 399 999)" x="399" y="1025">树图 shutu.cn</text>
<text class="wm" transform="rotate(-32 399 1649)" x="399" y="1675">树图 shutu.cn</text>
<text class="wm" transform="rotate(-32 399 2298)" x="399" y="2324">树图 shutu.cn</text>
<text class="wm" transform="rotate(-32 399 2948)" x="399" y="2974">树图 shutu.cn</text>
<text class="wm" transform="rotate(-32 399 3597)" x="399" y="3623">树图 shutu.cn</text>
<text class="wm" transform="rotate(-32 1240 331)" x="1240" y="357">树图 shutu.cn</text>
<text class="wm" transform="rotate(-32 1240 980)" x="1240" y="1006">树图 shutu.cn</text>
<text class="wm" transform="rotate(-32 1240 1629)" x="1240" y="1655">树图 shutu.cn</text>
<text class="wm" transform="rotate(-32 1240 2278)" x="1240" y="2304">树图 shutu.cn</text>
<text class="wm" transform="rotate(-32 1240 2927)" x="1240" y="2953">树图 shutu.cn</text>
<text class="wm" transform="rotate(-32 1240 3576)" x="1240" y="3602">树图 shutu.cn</text>
</g>
</svg>
